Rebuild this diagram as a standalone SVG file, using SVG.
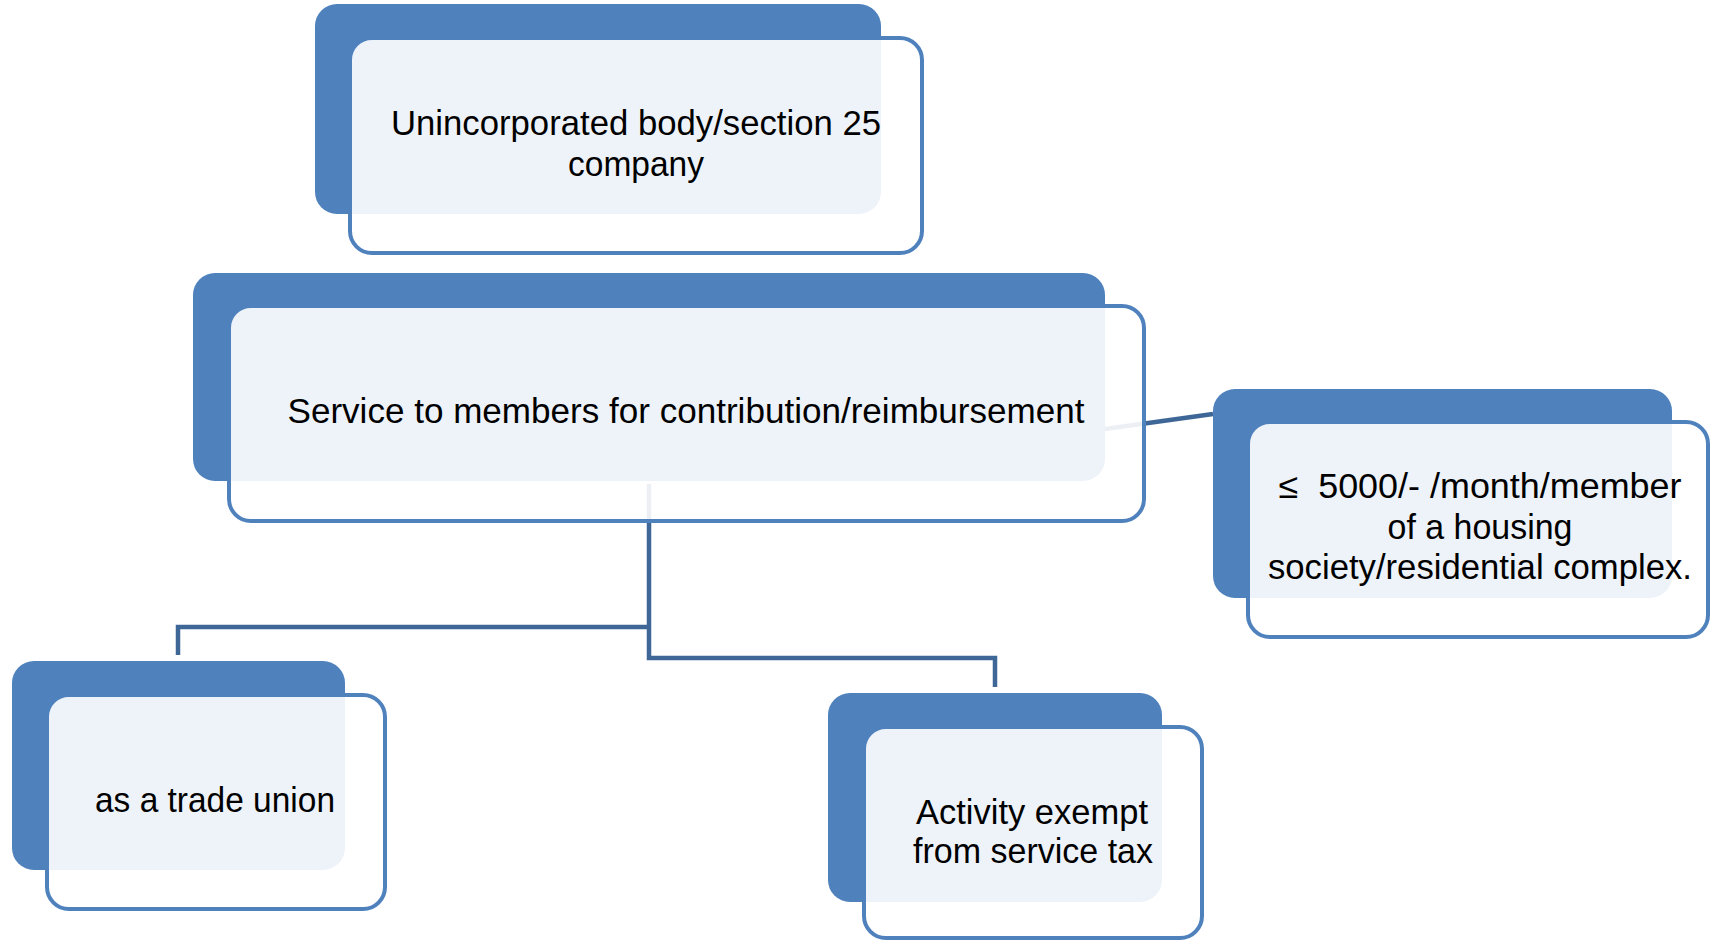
<svg xmlns="http://www.w3.org/2000/svg" width="1710" height="941" viewBox="0 0 1710 941">
<style>
.dark{fill:#4F81BD;stroke:none}
.card{fill:#FFFFFF;fill-opacity:0.9;stroke:#4F81BD;stroke-width:4}
.conn{fill:none;stroke:#3E6797;stroke-width:4.5;stroke-linejoin:miter}
text{font-family:"Liberation Sans",Arial,sans-serif;font-size:35px;fill:#000000;text-anchor:middle}
</style>
<rect width="1710" height="941" fill="#FFFFFF"/>
<g id="connectors">
<path class="conn" d="M649,484 V658 H995 V687"/>
<path class="conn" d="M649,627 H178 V655"/>
<path class="conn" d="M1105,429 L1213,414"/>
</g>
<g id="node-unincorporated">
<rect class="dark" x="315" y="4" width="566" height="210" rx="22"/>
<rect class="card" x="350" y="38" width="572" height="215" rx="22"/>
<text x="636" y="135" textLength="490" lengthAdjust="spacingAndGlyphs">Unincorporated body/section 25</text>
<text x="636" y="176" textLength="136" lengthAdjust="spacingAndGlyphs">company</text>
</g>
<g id="node-service">
<rect class="dark" x="193" y="273" width="912" height="208" rx="22"/>
<rect class="card" x="229" y="306" width="915" height="215" rx="22"/>
<text x="686" y="423" textLength="797" lengthAdjust="spacingAndGlyphs">Service to members for contribution/reimbursement</text>
</g>
<g id="node-housing">
<rect class="dark" x="1213" y="389" width="459" height="209" rx="22"/>
<rect class="card" x="1248" y="422" width="460" height="215" rx="22"/>
<text x="1480" y="498" textLength="403" lengthAdjust="spacingAndGlyphs" xml:space="preserve">≤  5000/- /month/member</text>
<text x="1480" y="539" textLength="185" lengthAdjust="spacingAndGlyphs">of a housing</text>
<text x="1480" y="579" textLength="424" lengthAdjust="spacingAndGlyphs">society/residential complex.</text>
</g>
<g id="node-trade-union">
<rect class="dark" x="12" y="661" width="333" height="209" rx="22"/>
<rect class="card" x="47" y="695" width="338" height="214" rx="22"/>
<text x="215" y="812" textLength="240" lengthAdjust="spacingAndGlyphs">as a trade union</text>
</g>
<g id="node-exempt">
<rect class="dark" x="828" y="693" width="334" height="209" rx="22"/>
<rect class="card" x="864" y="727" width="338" height="211" rx="22"/>
<text x="1032" y="824" textLength="232" lengthAdjust="spacingAndGlyphs">Activity exempt</text>
<text x="1033" y="863" textLength="240" lengthAdjust="spacingAndGlyphs">from service tax</text>
</g>
</svg>
